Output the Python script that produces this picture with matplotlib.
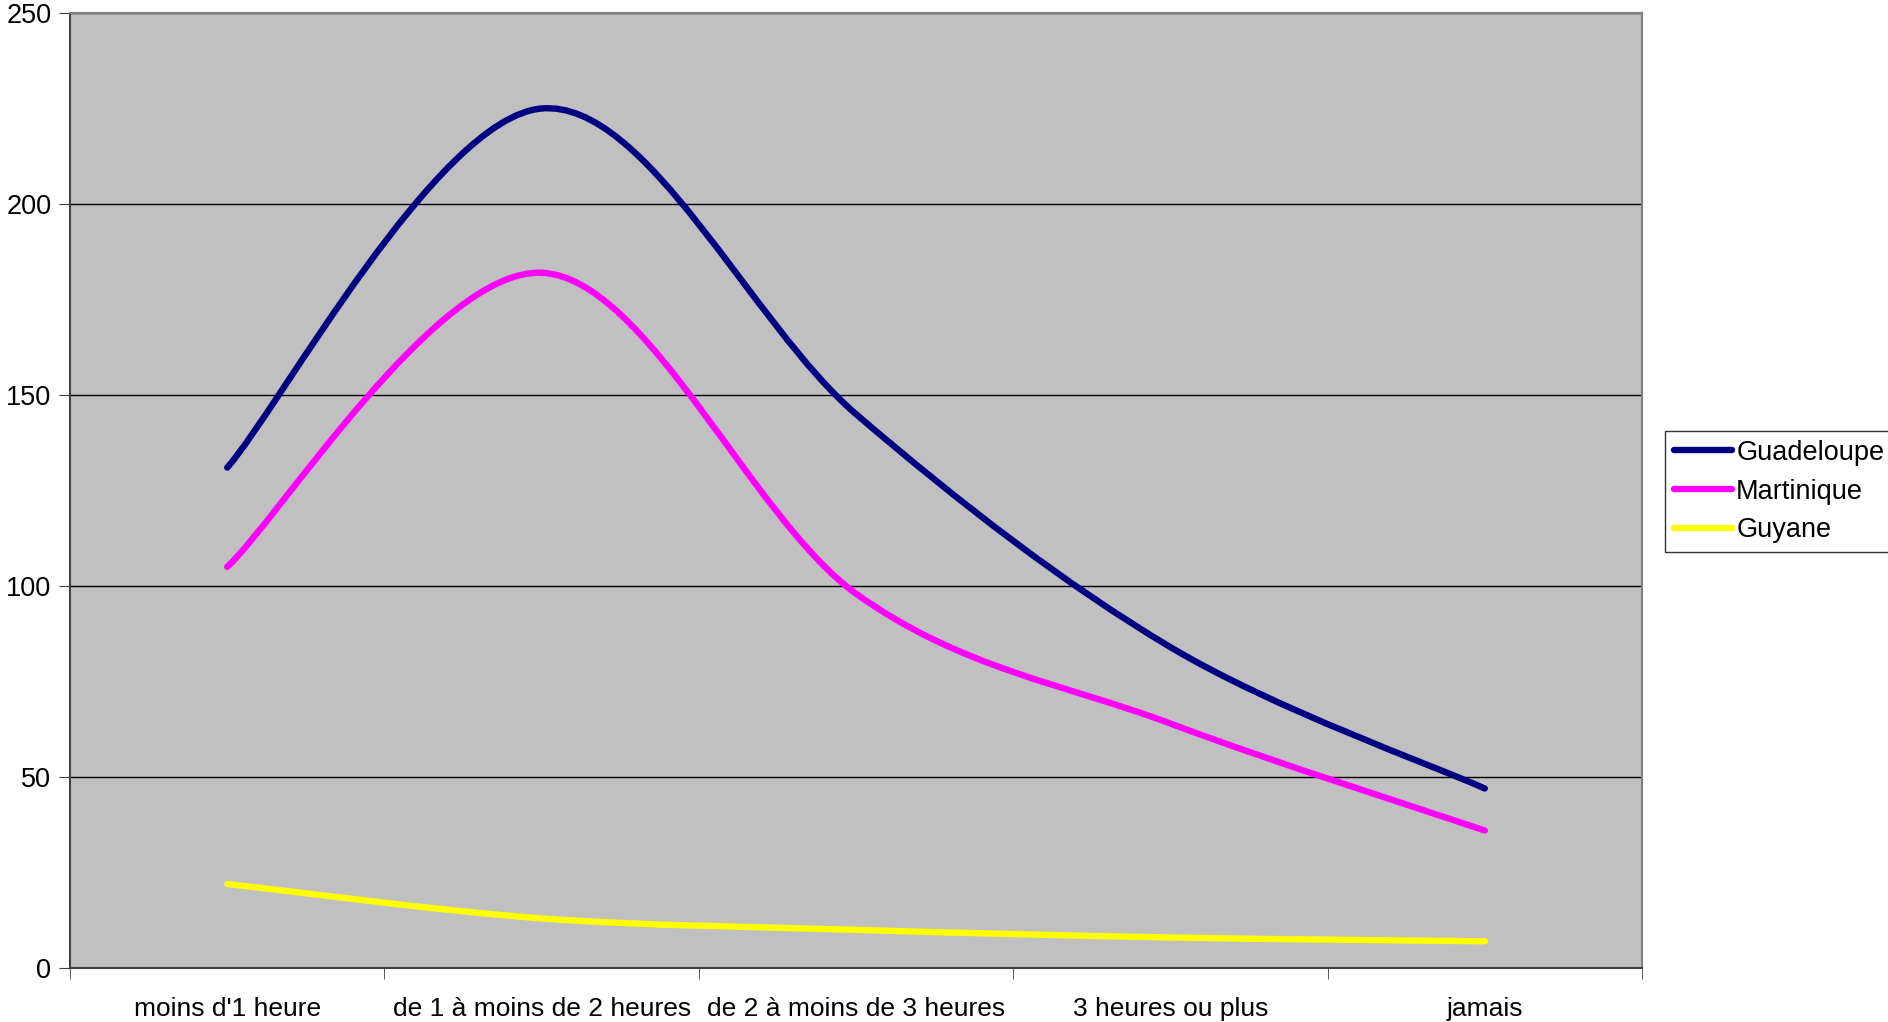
import matplotlib
matplotlib.use('Agg')
import matplotlib.pyplot as plt
import numpy as np
from matplotlib.path import Path
from matplotlib.patches import PathPatch
from matplotlib.lines import Line2D

plt.rcParams['font.family'] = ['Liberation Sans', 'DejaVu Sans']

categories = ["moins d'1 heure", "de 1 à moins de 2 heures", "de 2 à moins de 3 heures",
              "3 heures ou plus", "jamais"]
guadeloupe = [131, 225, 145, 84, 47]
martinique = [105, 182, 98, 64, 36]
guyane = [22, 13, 10, 8, 7]

series = [("Guadeloupe", guadeloupe, '#000080'),
          ("Martinique", martinique, '#FF00FF'),
          ("Guyane", guyane, '#FFFF00')]


def smooth_path(x, y):
    # Excel-like smoothed line: cubic Bezier segments (Catmull-Rom tangents)
    pts = np.column_stack([x, y]).astype(float)
    ext = np.vstack([pts[0], pts, pts[-1]])
    verts = [pts[0]]
    codes = [Path.MOVETO]
    for i in range(len(pts) - 1):
        p0, p1, p2, p3 = ext[i], ext[i + 1], ext[i + 2], ext[i + 3]
        c1 = p1 + (p2 - p0) / 6
        c2 = p2 - (p3 - p1) / 6
        verts += [c1, c2, p2]
        codes += [Path.CURVE4] * 3
    return Path(verts, codes)


fig = plt.figure(figsize=(18.88, 10.22), dpi=100)
ax = fig.add_axes([0.0371, 0.0528, 0.8326, 0.9345])
ax.set_facecolor('#C0C0C0')

x = np.arange(len(categories))
handles = []
for name, vals, color in series:
    patch = PathPatch(smooth_path(x, vals), fill=False, edgecolor=color, lw=4.6,
                      capstyle='round', joinstyle='round', zorder=3)
    ax.add_patch(patch)
    handles.append(Line2D([], [], color=color, lw=4.6, solid_capstyle='round', label=name))

ax.set_xlim(-0.5, len(categories) - 0.5)
ax.set_ylim(0, 250)
ax.set_yticks(np.arange(0, 251, 50))
ax.yaxis.grid(True, color='black', lw=1)
ax.set_axisbelow(True)

ax.set_xticks(x)
ax.set_xticklabels(categories)
ax.set_xticks(np.arange(-0.5, len(categories), 1), minor=True)
ax.tick_params(axis='x', which='major', length=0, pad=21, labelsize=19)
ax.tick_params(axis='x', which='minor', length=8, color='#404040')
ax.tick_params(axis='y', length=8, pad=5.5, labelsize=19.5, color='#404040')

for s in ['top', 'right']:
    ax.spines[s].set_color('#808080')
    ax.spines[s].set_linewidth(1.5)
for s in ['left', 'bottom']:
    ax.spines[s].set_color('#404040')
    ax.spines[s].set_linewidth(1.5)

leg = fig.legend(handles=handles, loc='upper left', bbox_to_anchor=(1665 / 1888, 1 - 431 / 1022),
                 fontsize=19.5, frameon=True, fancybox=False, edgecolor='black',
                 handlelength=2.15, handletextpad=0.15, labelspacing=0.47,
                 borderpad=0.33, borderaxespad=0)
leg.get_frame().set_linewidth(1)

fig.savefig('out.png', dpi=100, facecolor='white')
